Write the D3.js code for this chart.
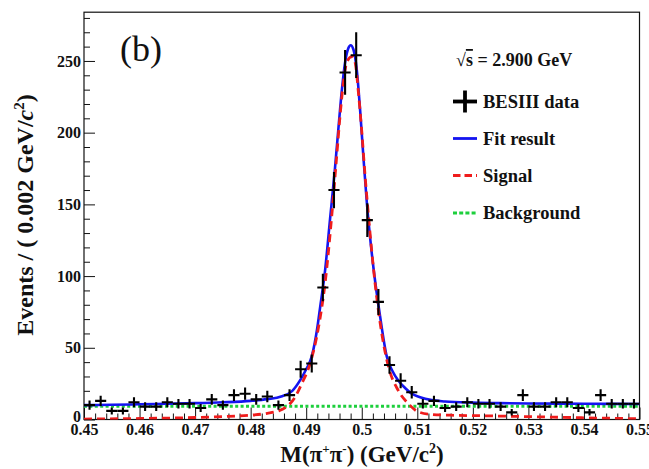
<!DOCTYPE html>
<html>
<head>
<meta charset="utf-8">
<script src="https://cdn.jsdelivr.net/npm/d3@7"></script>
<style>
  html, body { margin: 0; padding: 0; background: #fff; }
  svg { display: block; }
  text { font-family: "Liberation Serif", "Times New Roman", serif; font-weight: bold; fill: #111; }
</style>
</head>
<body>
<svg id="chart" width="649" height="469"></svg>
<script>
// M(pi+ pi-) histogram, bin width 0.002 GeV/c^2
const massBins = [
  0.451, 0.453, 0.455, 0.457, 0.459, 0.461, 0.463, 0.465, 0.467, 0.469,
  0.471, 0.473, 0.475, 0.477, 0.479, 0.481, 0.483, 0.485, 0.487, 0.489,
  0.491, 0.493, 0.495, 0.497, 0.499, 0.501, 0.503, 0.505, 0.507, 0.509,
  0.511, 0.513, 0.515, 0.517, 0.519, 0.521, 0.523, 0.525, 0.527, 0.529,
  0.531, 0.533, 0.535, 0.537, 0.539, 0.541, 0.543, 0.545, 0.547, 0.549
];
const counts = [
  10, 13, 6, 6, 12, 9, 9, 12, 11, 11,
  8, 14, 10, 17, 18, 14, 16, 10, 17, 35,
  39, 92, 160, 242, 254, 139, 82, 38, 27, 19,
  11, 13, 8, 9, 12, 11, 11, 9, 5, 17,
  9, 9, 12, 12, 8, 5, 17, 11, 11, 11
];
const binWidth = 0.002;

// Total fit curve (signal + background)
const fitMass = [0.450, 0.455, 0.460, 0.465, 0.470, 0.475, 0.480, 0.483, 0.4855, 0.4875,
  0.489, 0.490, 0.491, 0.492, 0.4925, 0.4934, 0.4943, 0.4952, 0.4958, 0.4964,
  0.4970, 0.4976, 0.4980, 0.4985, 0.4991, 0.4997, 0.5003, 0.5009, 0.5015, 0.5021,
  0.5033, 0.5045, 0.5055, 0.5066, 0.5078, 0.5090, 0.5105, 0.5126, 0.515, 0.520,
  0.525, 0.530, 0.540, 0.550];
const fitTotal = [10.0, 10.3, 10.6, 11.0, 11.4, 12.0, 13.0, 14.2, 16.0, 20.0,
  28, 35, 44, 64, 78, 104, 140, 176, 203, 229,
  249, 259, 261, 258, 244, 216, 183, 152, 127, 106,
  72, 44, 34, 27, 22, 18, 15.5, 13.5, 12.6, 11.8,
  11.4, 11.2, 11.0, 10.8];

// Signal component
const sigMass = [0.450, 0.460, 0.470, 0.476, 0.480, 0.483, 0.485, 0.4865, 0.4879, 0.4892,
  0.4907, 0.4922, 0.4934, 0.4946, 0.4955, 0.4961, 0.4967, 0.4973, 0.4982, 0.4988,
  0.4994, 0.5000, 0.5006, 0.5011, 0.5024, 0.5036, 0.5048, 0.5066, 0.5084, 0.5102,
  0.5126, 0.516, 0.522, 0.530, 0.540, 0.550];
const sigCurve = [0.3, 0.7, 1.4, 2.2, 3.0, 4.3, 6.0, 9, 15, 25,
  39, 64, 95, 142, 184, 212, 235, 249, 253, 249,
  228, 201, 170, 147, 95, 60, 37, 20, 11, 5.3,
  3.5, 3.0, 2.6, 2.0, 1.2, 0.5];

// Flat background component
const bkgMass = [0.450, 0.550];
const bkgCurve = [9.2, 9.2];

const xTicks = [0.45, 0.46, 0.47, 0.48, 0.49, 0.50, 0.51, 0.52, 0.53, 0.54, 0.55];
const xTickLabels = ["0.45", "0.46", "0.47", "0.48", "0.49", "0.5", "0.51", "0.52", "0.53", "0.54", "0.55"];
const yTicks = [0, 50, 100, 150, 200, 250];

const legendItems = ["BESIII data", "Fit result", "Signal", "Background"];

// ---- layout ----
const L = 84, R = 639.5, T = 12.2, B = 419.5;
const svg = d3.select("#chart");
svg.append("rect").attr("width", 649).attr("height", 469).attr("fill", "#fff");

const x = d3.scaleLinear().domain([0.45, 0.55]).range([L, R]);
const y = d3.scaleLinear().domain([0, 284]).range([B, T]);

svg.append("defs").append("clipPath").attr("id", "plotClip")
  .append("rect").attr("x", L).attr("y", T).attr("width", R - L).attr("height", B - T);

// ---- axes ----
const yMinor = d3.range(0, 285, 10).filter(v => v % 50 !== 0);
const xMinor = d3.range(0, 51).map(i => 0.45 + i * 0.002).filter((v, i) => i % 5 !== 0);

const gy = svg.append("g").attr("transform", `translate(${L},0)`);
gy.call(d3.axisLeft(y).tickValues(yTicks).tickSize(-11).tickPadding(3).tickFormat(d3.format("d")));
gy.append("g").call(d3.axisLeft(y).tickValues(yMinor).tickSize(-6).tickFormat(""));
// lift the zero label a little off the x-axis labels
gy.selectAll(".tick text").filter(d => d === 0).attr("dy", "0.1em");

const gx = svg.append("g").attr("transform", `translate(0,${B})`);
gx.call(d3.axisBottom(x).tickValues(xTicks).tickSize(-12).tickPadding(4)
  .tickFormat((d, i) => xTickLabels[i]));
gx.append("g").call(d3.axisBottom(x).tickValues(xMinor).tickSize(-6).tickFormat(""));

svg.selectAll(".domain").remove();
svg.selectAll(".tick line").attr("stroke", "#111").attr("stroke-width", 1);
svg.selectAll(".tick text")
  .style("font-family", '"Liberation Serif", serif')
  .style("font-weight", "bold").style("font-size", "16px").attr("fill", "#111");

// frame
svg.append("rect").attr("x", L).attr("y", T).attr("width", R - L).attr("height", B - T)
  .attr("fill", "none").attr("stroke", "#111").attr("stroke-width", 1.2);

// ---- curves ----
const plot = svg.append("g").attr("clip-path", "url(#plotClip)");
const line = d3.line().x(d => x(d[0])).y(d => y(d[1])).curve(d3.curveMonotoneX);

const bkgPts = d3.zip(bkgMass, bkgCurve);
const sigPts = d3.zip(sigMass, sigCurve);
const fitPts = d3.zip(fitMass, fitTotal);

const BLUE = "#1414f0", RED = "#ef1c1c", GREEN = "#1dcf3c";

plot.append("path").attr("d", line(bkgPts)).attr("fill", "none")
  .attr("stroke", GREEN).attr("stroke-width", 3).attr("stroke-dasharray", "3,2.4");
plot.append("path").attr("d", line(fitPts)).attr("fill", "none")
  .attr("stroke", BLUE).attr("stroke-width", 2.6);
plot.append("path").attr("d", line(sigPts)).attr("fill", "none")
  .attr("stroke", RED).attr("stroke-width", 2.8).attr("stroke-dasharray", "8,5");

// ---- data points with errors ----
const data = massBins.map((m, i) => ({ m, n: counts[i], e: Math.sqrt(counts[i]) }));
const pts = plot.append("g").attr("stroke", "#000").attr("stroke-width", 2.1);
pts.selectAll("line.h").data(data).join("line").attr("class", "h")
  .attr("x1", d => x(d.m - binWidth / 2)).attr("x2", d => x(d.m + binWidth / 2))
  .attr("y1", d => y(d.n)).attr("y2", d => y(d.n));
pts.selectAll("line.v").data(data).join("line").attr("class", "v")
  .attr("x1", d => x(d.m)).attr("x2", d => x(d.m))
  .attr("y1", d => y(d.n - d.e)).attr("y2", d => y(d.n + d.e));

// ---- labels ----
svg.append("text").attr("x", 120).attr("y", 60.5)
  .style("font-weight", "normal").style("font-size", "36px").text("(b)");

const yl = svg.append("text").attr("transform", "translate(33,215) rotate(-90)")
  .attr("text-anchor", "middle").style("font-size", "24px");
yl.append("tspan").text("Events / ( 0.002 GeV/");
yl.append("tspan").style("font-style", "italic").text("c");
yl.append("tspan").attr("dy", -9).style("font-size", "15px").text("2");
yl.append("tspan").attr("dy", 9).text(")");

const xl = svg.append("text").attr("x", 362).attr("y", 462)
  .attr("text-anchor", "middle").style("font-size", "23px");
xl.append("tspan").text("M(π");
xl.append("tspan").attr("dy", -9).style("font-size", "13px").text("+");
xl.append("tspan").attr("dy", 9).text("π");
xl.append("tspan").attr("dy", -9).style("font-size", "13px").text("-");
xl.append("tspan").attr("dy", 9).text(") (GeV/c");
xl.append("tspan").attr("dy", -9).style("font-size", "14px").text("2");
xl.append("tspan").attr("dy", 9).text(")");

// ---- legend ----
const lg = svg.append("g");
const t0 = lg.append("text").attr("x", 456).attr("y", 66).style("font-size", "18px");
t0.append("tspan").text("√");
t0.append("tspan").style("text-decoration", "overline").text("s");
t0.append("tspan").text(" = 2.900 GeV");

const legY = [101.5, 138.5, 175.5, 213];
const mx0 = 453, mx1 = 477;
// data cross
lg.append("line").attr("x1", mx0).attr("x2", mx1).attr("y1", legY[0]).attr("y2", legY[0])
  .attr("stroke", "#000").attr("stroke-width", 3.8);
lg.append("line").attr("x1", 465).attr("x2", 465).attr("y1", legY[0] - 11).attr("y2", legY[0] + 11)
  .attr("stroke", "#000").attr("stroke-width", 3.8);
lg.append("line").attr("x1", mx0).attr("x2", mx1).attr("y1", legY[1]).attr("y2", legY[1])
  .attr("stroke", BLUE).attr("stroke-width", 2.8);
lg.append("line").attr("x1", mx0).attr("x2", mx1).attr("y1", legY[2]).attr("y2", legY[2])
  .attr("stroke", RED).attr("stroke-width", 2.8).attr("stroke-dasharray", "7.5,4");
lg.append("line").attr("x1", mx0).attr("x2", mx1).attr("y1", legY[3]).attr("y2", legY[3])
  .attr("stroke", GREEN).attr("stroke-width", 3.2).attr("stroke-dasharray", "4,2.2");

lg.selectAll("text.item").data(legendItems).join("text").attr("class", "item")
  .attr("x", 483).attr("y", (d, i) => legY[i] + 6).style("font-size", "18.5px").text(d => d);
</script>
</body>
</html>
